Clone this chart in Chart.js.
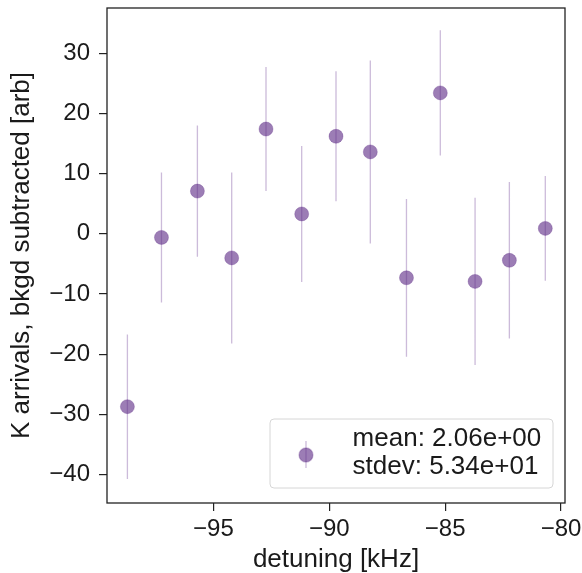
<!DOCTYPE html>
<html>
<head>
<meta charset="utf-8">
<script src="https://cdn.jsdelivr.net/npm/chart.js@4.4.0/dist/chart.umd.min.js"></script>
<style>
    body { margin: 0; background: #fff; }
    #wrap { width: 582px; height: 573px; }
</style>
</head>
<body>
<div id="wrap"><canvas id="scatter-chart" width="582" height="573"></canvas></div>
<script>
// values
const detuning = [-98.71, -97.24, -95.69, -94.21, -92.73, -91.19, -89.71, -88.23, -86.67, -85.21, -83.71, -82.23, -80.68];
const arrivals = [-28.7, -0.6, 7.1, -4.0, 17.4, 3.3, 16.2, 13.6, -7.3, 23.4, -7.9, -4.4, 0.9];
const errors = [12.0, 10.8, 10.9, 14.2, 10.3, 11.3, 10.8, 15.2, 13.1, 10.4, 13.9, 13.0, 8.7];
const xTicks = [-95, -90, -85, -80];
const yTicks = [-40, -30, -20, -10, 0, 10, 20, 30];
const legendLines = ['mean: 2.06e+00', 'stdev: 5.34e+01'];

const family = '"Liberation Sans", Arial, sans-serif';
const textColor = '#1a1a1a';
const markerFill = 'rgba(95, 45, 135, 0.62)';
const markerEdge = 'rgba(95, 45, 135, 0.3)';
const barColor = 'rgba(110, 60, 150, 0.35)';

const minus = v => v < 0 ? '\u2212' + Math.abs(v) : String(v);

// vertical error bars as one broken line
const barPoints = [];
detuning.forEach((x, i) => {
    barPoints.push({x: x, y: arrivals[i] - errors[i]});
    barPoints.push({x: x, y: arrivals[i] + errors[i]});
    barPoints.push({x: x, y: null});
});

const framePlugin = {
    id: 'frame',
    afterDatasetsDraw(chart) {
        const {ctx, chartArea} = chart;
        ctx.save();
        ctx.strokeStyle = '#222';
        ctx.lineWidth = 1.3;
        ctx.strokeRect(chartArea.left, chartArea.top, chartArea.right - chartArea.left, chartArea.bottom - chartArea.top);
        ctx.restore();
    }
};

const legendPlugin = {
    id: 'statsLegend',
    afterDraw(chart) {
        const {ctx, chartArea} = chart;
        const w = 283, h = 69;
        const x = chartArea.right - 12 - w;
        const y = chartArea.bottom - 15 - h;

        ctx.save();
        ctx.beginPath();
        ctx.roundRect(x, y, w, h, 4);
        ctx.fillStyle = 'rgba(255,255,255,0.8)';
        ctx.fill();
        ctx.strokeStyle = '#d6d6d6';
        ctx.lineWidth = 1;
        ctx.stroke();

        const mx = x + 36, my = y + 36;
        ctx.beginPath();
        ctx.moveTo(mx, my - 14);
        ctx.lineTo(mx, my + 13);
        ctx.strokeStyle = barColor;
        ctx.lineWidth = 1.3;
        ctx.stroke();
        ctx.beginPath();
        ctx.arc(mx, my, 7, 0, Math.PI * 2);
        ctx.fillStyle = markerFill;
        ctx.fill();
        ctx.strokeStyle = markerEdge;
        ctx.stroke();

        ctx.font = '26px ' + family;
        ctx.fillStyle = textColor;
        ctx.textBaseline = 'alphabetic';
        ctx.textAlign = 'left';
        ctx.fillText(legendLines[0], x + 82.6, y + 27);
        ctx.fillText(legendLines[1], x + 82.6, y + 55);
        ctx.restore();
    }
};

new Chart(document.getElementById('scatter-chart'), {
    type: 'scatter',
    data: {
        datasets: [
            {
                type: 'line',
                data: barPoints,
                borderColor: barColor,
                borderWidth: 1.3,
                pointRadius: 0,
                showLine: true,
                spanGaps: false,
                order: 2,
            },
            {
                data: detuning.map((x, i) => ({x: x, y: arrivals[i]})),
                backgroundColor: markerFill,
                borderColor: markerEdge,
                borderWidth: 1,
                pointRadius: 7,
                order: 1,
            },
        ],
    },
    options: {
        responsive: false,
        animation: false,
        layout: {
            padding: {top: 4, right: 17, bottom: 0, left: 0}
        },
        plugins: {
            legend: {display: false},
            tooltip: {enabled: false},
        },
        scales: {
            x: {
                type: 'linear',
                min: -99.59,
                max: -79.83,
                afterBuildTicks: s => { s.ticks = xTicks.map(v => ({value: v})); },
                afterFit: s => {
                    s.height = 70;
                    s.paddingLeft = 0;
                    s.paddingRight = 0;
                },
                grid: {drawOnChartArea: false, drawTicks: true, tickLength: 8, color: '#222', lineWidth: 1.2},
                border: {display: false},
                ticks: {
                    autoSkip: false,
                    maxRotation: 0,
                    padding: 4,
                    color: textColor,
                    font: {size: 24, family: family},
                    callback: v => minus(v),
                },
                title: {
                    display: true,
                    text: 'detuning [kHz]',
                    color: textColor,
                    font: {size: 26, family: family, lineHeight: 1.0},
                    padding: {top: 0, bottom: 0},
                },
            },
            y: {
                type: 'linear',
                min: -44.7,
                max: 37.5,
                afterBuildTicks: s => { s.ticks = yTicks.map(v => ({value: v})); },
                afterFit: s => {
                    s.width = 107;
                    s.paddingTop = 0;
                    s.paddingBottom = 0;
                },
                grid: {drawOnChartArea: false, drawTicks: true, tickLength: 8, color: '#222', lineWidth: 1.2},
                border: {display: false},
                ticks: {
                    autoSkip: false,
                    padding: 9,
                    color: textColor,
                    font: {size: 24, family: family},
                    callback: v => minus(v),
                },
                title: {
                    display: true,
                    text: 'K arrivals, bkgd subtracted [arb]',
                    color: textColor,
                    font: {size: 26, family: family},
                    padding: {top: 6, bottom: 0},
                },
            },
        },
    },
    plugins: [framePlugin, legendPlugin],
});
</script>
</body>
</html>
